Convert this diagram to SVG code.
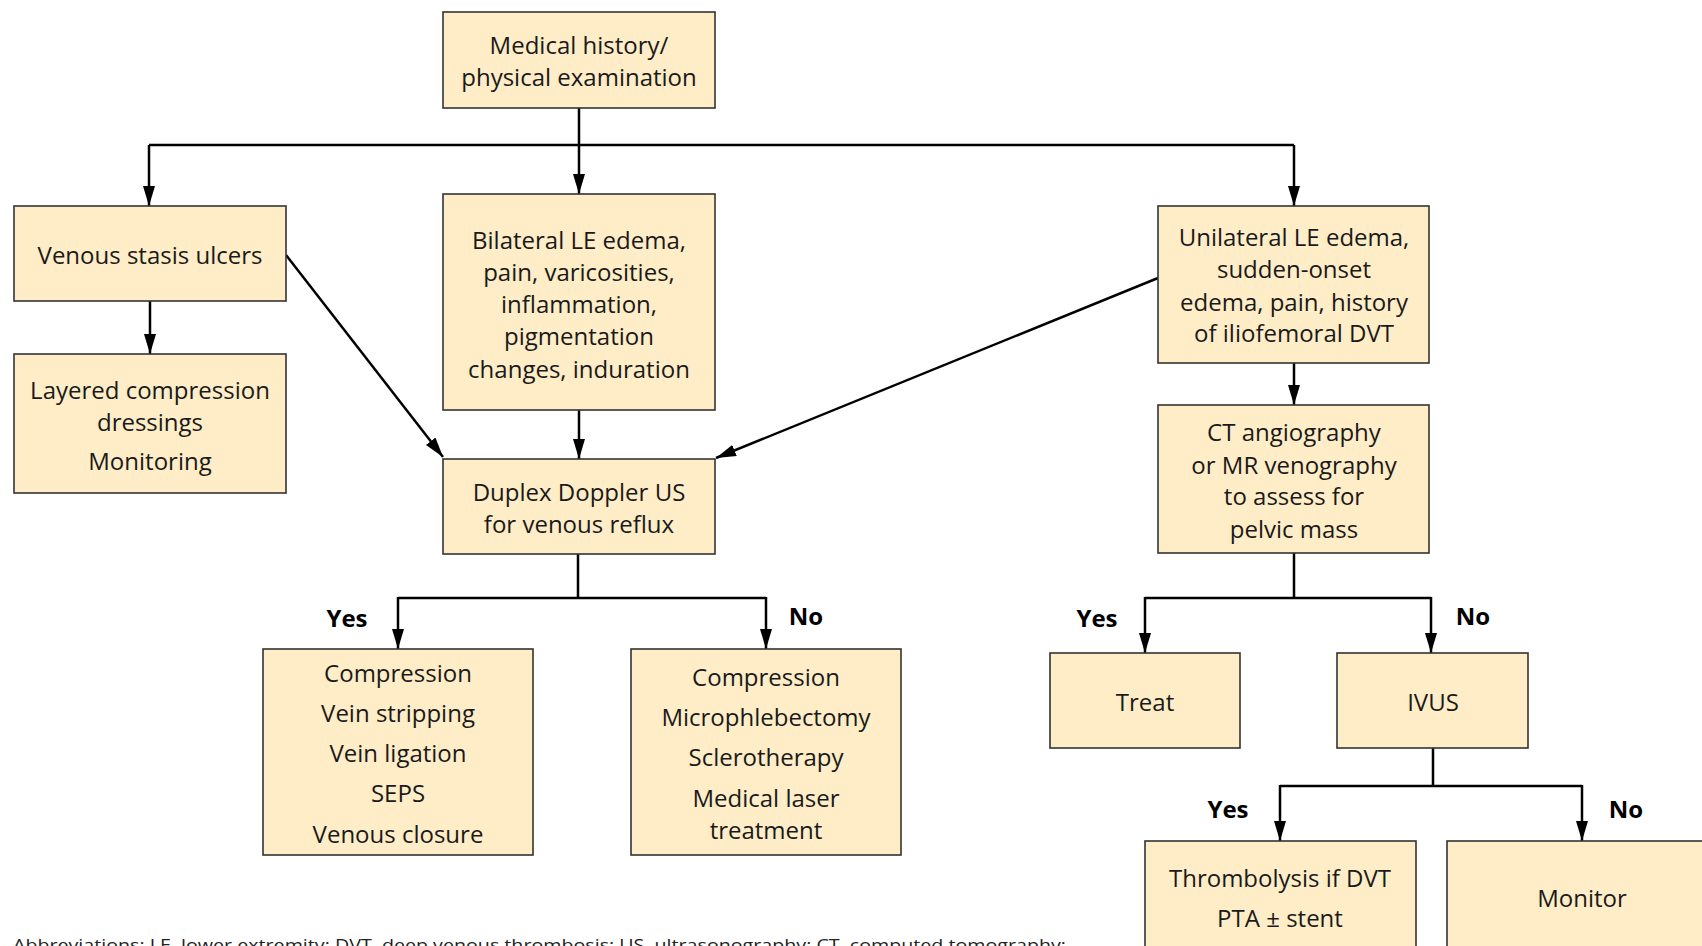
<svg xmlns="http://www.w3.org/2000/svg" width="1702" height="946" viewBox="0 0 1702 946">
<style>
.box{fill:#FFEDC7;stroke:#333;stroke-width:1.6}
.t{font-family:"Open Sans","Liberation Sans",sans-serif;font-size:24px;fill:#1a1a1a;text-anchor:middle}
.lbl{font-family:"Open Sans","Liberation Sans",sans-serif;font-size:24px;font-weight:bold;fill:#000}
.c{fill:none;stroke:#000;stroke-width:2.5}
.a{marker-end:url(#ah)}
.abbr{font-family:"Open Sans","Liberation Sans",sans-serif;font-size:17px;fill:#222}
</style>
<defs>
<marker id="ah" viewBox="0 0 20 12" markerWidth="20" markerHeight="12" refX="20" refY="6" orient="auto" markerUnits="userSpaceOnUse">
<path d="M0,0 L20,6 L0,12 z" fill="#000"/>
</marker>
</defs>
<rect width="1702" height="946" fill="#fff"/>
<g id="connectors">
<path class="c" d="M579,108 V145"/>
<path class="c" d="M149,145 H1294"/>
<path class="c a" d="M149,145 V206"/>
<path class="c a" d="M579,145 V194"/>
<path class="c a" d="M1294,145 V206"/>
<path class="c a" d="M150,301 V354"/>
<path class="c a" d="M579,410 V459"/>
<path class="c a" d="M286,255 L443,457"/>
<path class="c a" d="M1158,278 L716,458"/>
<path class="c a" d="M1294,363 V405"/>
<path class="c" d="M578,554 V598 M398,598 H766"/>
<path class="c a" d="M398,597 V649"/>
<path class="c a" d="M766,597 V649"/>
<path class="c" d="M1294,553 V598 M1145,598 H1431"/>
<path class="c a" d="M1145,597 V653"/>
<path class="c a" d="M1431,597 V653"/>
<path class="c" d="M1433,748 V786 M1280,786 H1582"/>
<path class="c a" d="M1280,785 V841"/>
<path class="c a" d="M1582,785 V841"/>
</g>
<g id="labels">
<text class="lbl" x="347" y="627" text-anchor="middle">Yes</text>
<text class="lbl" x="806" y="625" text-anchor="middle">No</text>
<text class="lbl" x="1097" y="627" text-anchor="middle">Yes</text>
<text class="lbl" x="1473" y="625" text-anchor="middle">No</text>
<text class="lbl" x="1228" y="818" text-anchor="middle">Yes</text>
<text class="lbl" x="1626" y="818" text-anchor="middle">No</text>
</g>
<g id="n-history">
<rect class="box" x="443" y="12" width="272" height="96"/>
<text class="t" x="579" y="54">Medical history/</text>
<text class="t" x="579" y="86">physical examination</text>
</g>
<g id="n-ulcers">
<rect class="box" x="14" y="206" width="272" height="95"/>
<text class="t" x="150" y="264">Venous stasis ulcers</text>
</g>
<g id="n-layered">
<rect class="box" x="14" y="354" width="272" height="139"/>
<text class="t" x="150" y="399">Layered compression</text>
<text class="t" x="150" y="431">dressings</text>
<text class="t" x="150" y="470">Monitoring</text>
</g>
<g id="n-bilateral">
<rect class="box" x="443" y="194" width="272" height="216"/>
<text class="t" x="579" y="249">Bilateral LE edema,</text>
<text class="t" x="579" y="281">pain, varicosities,</text>
<text class="t" x="579" y="313">inflammation,</text>
<text class="t" x="579" y="345">pigmentation</text>
<text class="t" x="579" y="378">changes, induration</text>
</g>
<g id="n-duplex">
<rect class="box" x="443" y="459" width="272" height="95"/>
<text class="t" x="579" y="501">Duplex Doppler US</text>
<text class="t" x="579" y="533">for venous reflux</text>
</g>
<g id="n-unilateral">
<rect class="box" x="1158" y="206" width="271" height="157"/>
<text class="t" x="1294" y="246">Unilateral LE edema,</text>
<text class="t" x="1294" y="278">sudden-onset</text>
<text class="t" x="1294" y="311">edema, pain, history</text>
<text class="t" x="1294" y="342">of iliofemoral DVT</text>
</g>
<g id="n-ct">
<rect class="box" x="1158" y="405" width="271" height="148"/>
<text class="t" x="1294" y="441">CT angiography</text>
<text class="t" x="1294" y="474">or MR venography</text>
<text class="t" x="1294" y="505">to assess for</text>
<text class="t" x="1294" y="538">pelvic mass</text>
</g>
<g id="n-yes-treat">
<rect class="box" x="263" y="649" width="270" height="206"/>
<text class="t" x="398" y="682">Compression</text>
<text class="t" x="398" y="722">Vein stripping</text>
<text class="t" x="398" y="762">Vein ligation</text>
<text class="t" x="398" y="802">SEPS</text>
<text class="t" x="398" y="843">Venous closure</text>
</g>
<g id="n-no-treat">
<rect class="box" x="631" y="649" width="270" height="206"/>
<text class="t" x="766" y="686">Compression</text>
<text class="t" x="766" y="726">Microphlebectomy</text>
<text class="t" x="766" y="766">Sclerotherapy</text>
<text class="t" x="766" y="807">Medical laser</text>
<text class="t" x="766" y="839">treatment</text>
</g>
<g id="n-treat">
<rect class="box" x="1050" y="653" width="190" height="95"/>
<text class="t" x="1145" y="711">Treat</text>
</g>
<g id="n-ivus">
<rect class="box" x="1337" y="653" width="191" height="95"/>
<text class="t" x="1433" y="711">IVUS</text>
</g>
<g id="n-thrombolysis">
<rect class="box" x="1145" y="841" width="271" height="120"/>
<text class="t" x="1280" y="887">Thrombolysis if DVT</text>
<text class="t" x="1280" y="927">PTA ± stent</text>
</g>
<g id="n-monitor">
<rect class="box" x="1447" y="841" width="271" height="120"/>
<text class="t" x="1582" y="907">Monitor</text>
</g>
<g id="footnote">
<text class="abbr" x="13" y="951" textLength="1053" lengthAdjust="spacingAndGlyphs">Abbreviations: LE, lower extremity; DVT, deep venous thrombosis; US, ultrasonography; CT, computed tomography;</text>
</g>
</svg>
